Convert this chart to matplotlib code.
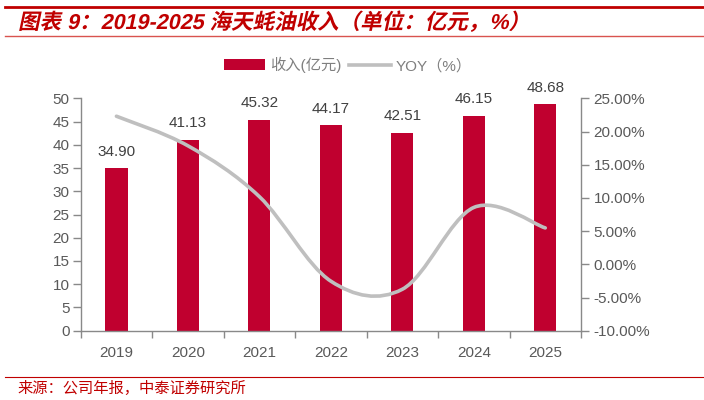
import numpy as np
import matplotlib
matplotlib.use("Agg")
import matplotlib.pyplot as plt
from matplotlib.path import Path
from matplotlib.patches import PathPatch, Patch
from matplotlib.lines import Line2D
from matplotlib.textpath import TextPath
from matplotlib.font_manager import FontProperties
from matplotlib.transforms import Affine2D
from matplotlib.ticker import FuncFormatter, MultipleLocator

plt.rcParams['font.family'] = ['Liberation Sans', 'Noto Sans CJK SC', 'DejaVu Sans']

years = ["2019", "2020", "2021", "2022", "2023", "2024", "2025"]
revenue = [34.90, 41.13, 45.32, 44.17, 42.51, 46.15, 48.68]
yoy = [22.3, 17.85, 10.19, -2.54, -3.76, 8.56, 5.48]

title = "图表 9：2019-2025 海天蚝油收入（单位：亿元，%）"
source = "来源：公司年报，中泰证券研究所"

red = "#C0002F"
grey_line = "#BFBFBF"
axis_grey = "#898989"
text_grey = "#595959"
title_red = "#C00000"

fig = plt.figure(figsize=(7.04, 4.00), dpi=100)
ax = fig.add_axes([80.7 / 704, 1 - 330.7 / 400, (581 - 80.7) / 704, (330.7 - 98.3) / 400])
ax2 = ax.twinx()

x = np.arange(len(years))
bars = ax.bar(x, revenue, width=0.31, color=red, zorder=2)
for xi, v in zip(x, revenue):
    ax.annotate(f"{v:.2f}", (xi, v), xytext=(0, 7), textcoords="offset points",
                ha="center", va="bottom", fontsize=11, color="#404040")

# smoothed line (Excel style bezier through the points)
pts = np.column_stack([x, yoy]).astype(float)
verts = [tuple(pts[0])]
codes = [Path.MOVETO]
n = len(pts)
for i in range(n - 1):
    p0 = pts[i - 1] if i > 0 else pts[i]
    p1 = pts[i]
    p2 = pts[i + 1]
    p3 = pts[i + 2] if i + 2 < n else pts[i + 1]
    c1 = p1 + (p2 - p0) / 6
    c2 = p2 - (p3 - p1) / 6
    verts += [tuple(c1), tuple(c2), tuple(p2)]
    codes += [Path.CURVE4] * 3
ax2.add_patch(PathPatch(Path(verts, codes), facecolor="none", edgecolor=grey_line,
                        lw=2.6, capstyle="round", zorder=3))

ax.set_xlim(-0.5, len(years) - 0.5)
ax.set_ylim(0, 50)
ax2.set_ylim(-10, 25)
ax.yaxis.set_major_locator(MultipleLocator(5))
ax2.yaxis.set_major_locator(MultipleLocator(5))
ax2.yaxis.set_major_formatter(FuncFormatter(lambda v, p: f"{v:.2f}%"))

ax.set_xticks(x)
ax.set_xticklabels(years)
ax.set_xticks(np.arange(-0.5, len(years)), minor=True)
ax.tick_params(axis="x", which="major", length=0, pad=11, labelsize=11, labelcolor=text_grey)
ax.tick_params(axis="x", which="minor", length=5, width=1, color=axis_grey, direction="out")
ax.tick_params(axis="y", length=6, width=1, color=axis_grey, pad=2, labelsize=11, labelcolor=text_grey)
ax2.tick_params(axis="y", length=6, width=1, color=axis_grey, pad=3, labelsize=11, labelcolor=text_grey)

for a in (ax, ax2):
    a.spines["top"].set_visible(False)
    for s in ("left", "right", "bottom"):
        a.spines[s].set_color(axis_grey)
        a.spines[s].set_linewidth(1)
ax.spines["right"].set_visible(False)
ax2.spines["left"].set_visible(False)
ax2.spines["bottom"].set_visible(False)

handles = [Patch(facecolor=red, edgecolor="none"), Line2D([], [], color=grey_line, lw=2.6)]
fig.legend(handles, ["收入(亿元)", "YOY（%）"], loc="center", bbox_to_anchor=(348 / 704, 1 - 65 / 400),
           ncol=2, frameon=False, fontsize=11, labelcolor="#7F7F7F", handlelength=2.7,
           handletextpad=0.35, columnspacing=0.5)

# header / footer rules
fig.add_artist(Line2D([5 / 704, 1], [1 - 7 / 400] * 2, color=title_red, lw=2.0))
fig.add_artist(Line2D([5 / 704, 1], [1 - 35.7 / 400] * 2, color="#D9534F", lw=1.0))
fig.add_artist(Line2D([5 / 704, 1], [1 - 377.3 / 400] * 2, color=title_red, lw=0.8))

# italic-looking bold title
fp = FontProperties(family=['Liberation Sans', 'Noto Sans CJK SC'], weight="bold", size=15.5)
tp = TextPath((0, 0), title, prop=fp)
tr = Affine2D().skew_deg(12, 0).scale(1 / 72).translate(18 / 100, (400 - 29) / 100) + fig.dpi_scale_trans
fig.add_artist(PathPatch(tp, transform=tr, facecolor=title_red, edgecolor="none"))

fig.text(17 / 704, 1 - 388.3 / 400, source, color=title_red, fontsize=11, va="center", ha="left",
         family=['Noto Sans CJK SC', 'DejaVu Sans'])

fig.savefig("out.png", dpi=100)
